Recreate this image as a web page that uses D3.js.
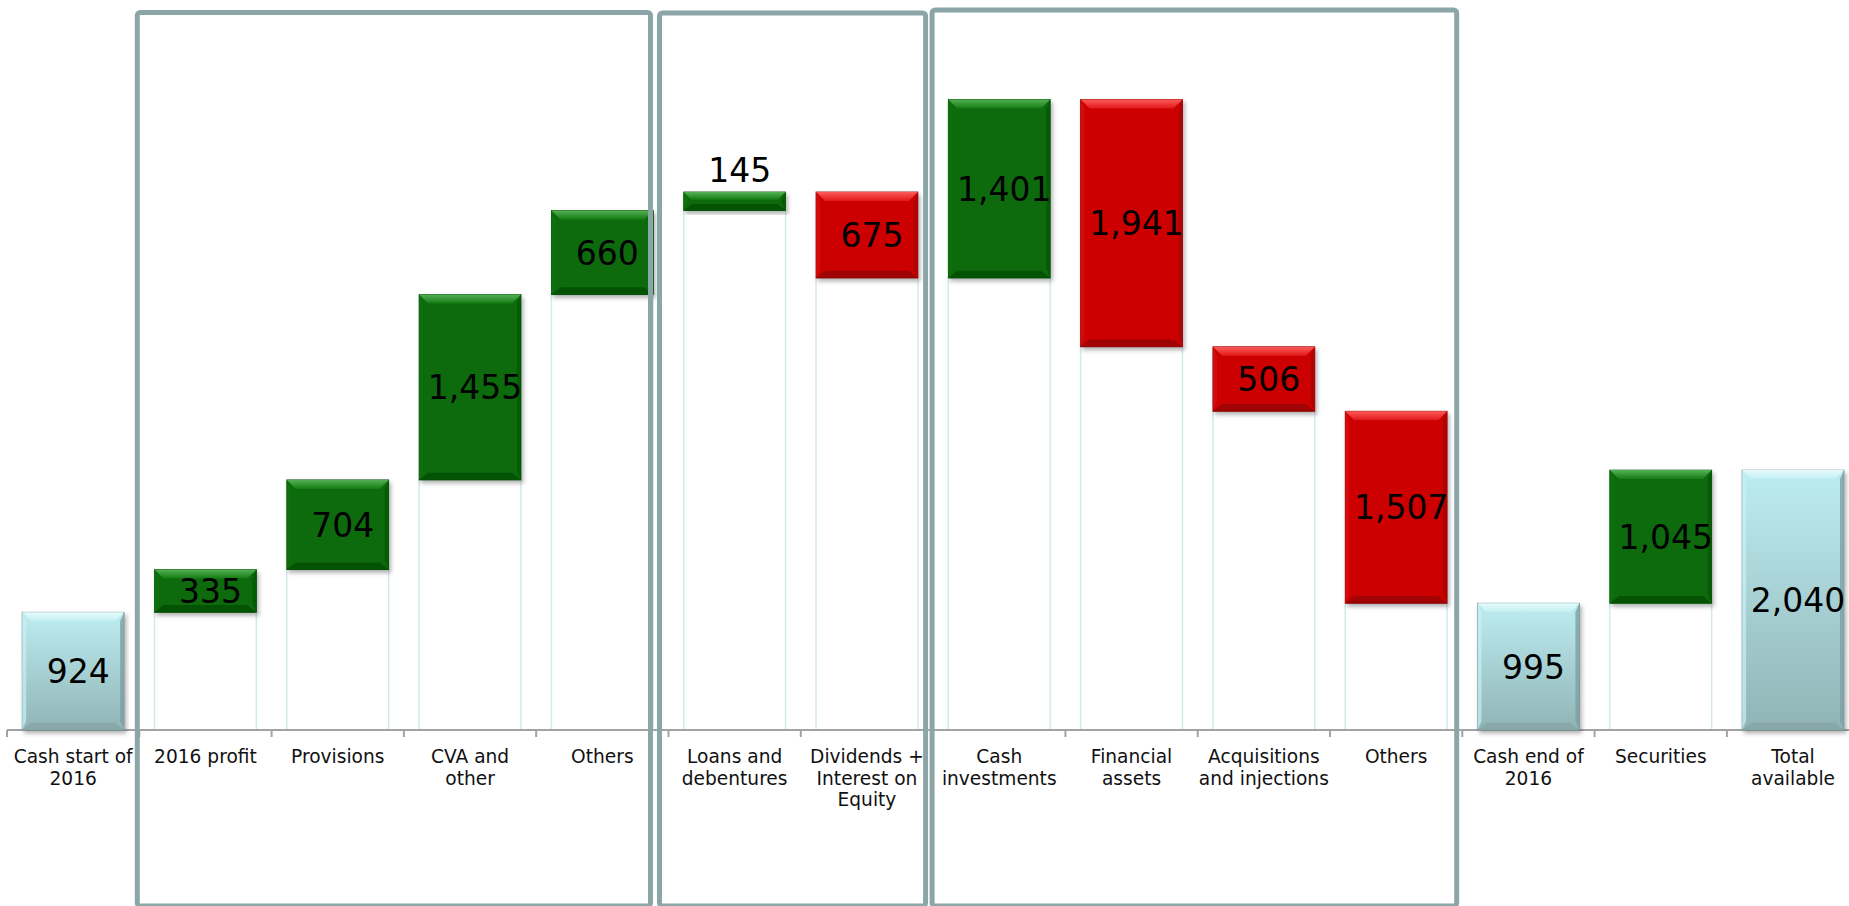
<!DOCTYPE html>
<html>
<head>
<meta charset="utf-8">
<script src="https://cdn.jsdelivr.net/npm/d3@7"></script>
<style>
  body { margin: 0; background: #fff; }
  text { font-family: "DejaVu Sans", Verdana, sans-serif; }
</style>
</head>
<body>
<script>
// categories, label lines and values
var categories = ["Cash start of 2016", "2016 profit", "Provisions", "CVA and other", "Others",
  "Loans and debentures", "Dividends + Interest on Equity", "Cash investments", "Financial assets",
  "Acquisitions and injections", "Others ", "Cash end of 2016", "Securities", "Total available"];
var labelLines = [["Cash start of", "2016"], ["2016 profit"], ["Provisions"], ["CVA and", "other"], ["Others"],
  ["Loans and", "debentures"], ["Dividends +", "Interest on", "Equity"], ["Cash", "investments"],
  ["Financial", "assets"], ["Acquisitions", "and injections"], ["Others"], ["Cash end of", "2016"],
  ["Securities"], ["Total", "available"]];
var values = [924, 335, 704, 1455, 660, 145, -675, 1401, -1941, -506, -1507, 995, 1045, 2040];
var isTotal = [true, false, false, false, false, false, false, false, false, false, false, true, false, true];
var labelAbove = [false, false, false, false, false, true, false, false, false, false, false, false, false, false];
// boxed groups, by category index
var groupFirst = [1, 5, 7];
var groupLast = [4, 6, 10];

var w = 1849;
var h = 906;
var svg = d3.select("body")
  .append("svg")
  .attr("width", w)
  .attr("height", h);

var x = d3.scaleBand()
  .domain(categories)
  .range([7, 7 + 14 * 132.3])
  .paddingInner(0.23)
  .paddingOuter(0.115);

var y = d3.scaleLinear()
  .domain([0, 5000])
  .range([730, 730 - 5000 * 0.1274]);

// running sums for the waterfall
var bars = [];
var run = 0;
values.forEach(function(v, i) {
  var lo, hi;
  if (isTotal[i]) { lo = 0; hi = v; run = v; }
  else { lo = Math.min(run, run + v); hi = Math.max(run, run + v); run = run + v; }
  bars.push({ cat: categories[i], v: v, lo: lo, hi: hi, kind: isTotal[i] ? "total" : (v >= 0 ? "up" : "down"), above: labelAbove[i] });
});

var defs = svg.append("defs");
var f = defs.append("filter").attr("id", "shadow").attr("x", "-20%").attr("y", "-20%").attr("width", "140%").attr("height", "140%");
f.append("feDropShadow").attr("dx", 2).attr("dy", 3).attr("stdDeviation", 2).attr("flood-color", "#000").attr("flood-opacity", 0.3);

function grad(id, c1, c2) {
  var g = defs.append("linearGradient").attr("id", id).attr("x1", 0).attr("y1", 0).attr("x2", 0).attr("y2", 1);
  g.append("stop").attr("offset", "0%").attr("stop-color", c1);
  g.append("stop").attr("offset", "100%").attr("stop-color", c2);
}
grad("totalBody", "#bdedf1", "#90b4b6");
grad("totalTop", "#e6fbfc", "#c2eff2");
grad("upTop", "#55b055", "#137c13");
grad("downTop", "#ff5a5a", "#e01818");

var style = {
  total: { body: "url(#totalBody)", top: "url(#totalTop)", bottom: "#86a6a8", left: "#c9f1f3", right: "#7f9fa1", edge: "#6f8f91" },
  up: { body: "#076a07", top: "url(#upTop)", bottom: "#044f04", left: "#0c760c", right: "#055805", edge: "#044a04" },
  down: { body: "#cc0606", top: "url(#downTop)", bottom: "#960404", left: "#d81010", right: "#a80505", edge: "#8a0303" }
};

// invisible base bars (white with light edges)
svg.selectAll("rect.base")
  .data(bars.filter(function(d) { return d.kind != "total" && d.lo > 0; }))
  .enter()
  .append("rect")
  .attr("class", "base")
  .attr("x", function(d) { return x(d.cat); })
  .attr("y", function(d) { return y(d.lo); })
  .attr("width", x.bandwidth())
  .attr("height", function(d) { return y(0) - y(d.lo); })
  .attr("fill", "#fff")
  .attr("stroke", "#d3e9ec")
  .attr("stroke-width", 1.5);

// axis line and ticks at category boundaries
var step = x.step();
var x0 = x(categories[0]) - step * x.paddingOuter();
svg.append("line")
  .attr("x1", x0).attr("x2", x0 + step * categories.length)
  .attr("y1", y(0)).attr("y2", y(0))
  .attr("stroke", "#a3a3a3").attr("stroke-width", 2);
svg.selectAll("line.tick")
  .data(d3.range(categories.length + 1))
  .enter()
  .append("line")
  .attr("class", "tick")
  .attr("x1", function(i) { return x0 + i * step; })
  .attr("x2", function(i) { return x0 + i * step; })
  .attr("y1", y(0)).attr("y2", y(0) + 7)
  .attr("stroke", "#a3a3a3").attr("stroke-width", 2);

// floating bars with a bevel
var g = svg.selectAll("g.bar")
  .data(bars)
  .enter()
  .append("g")
  .attr("class", "bar");

g.each(function(d) {
  var s = style[d.kind];
  var a = x(d.cat), b = a + x.bandwidth();
  var t = y(d.hi), u = y(d.lo);
  var bv = Math.min(9, (u - t) * 0.42);
  var sv = Math.min(4, bv);
  var el = d3.select(this);
  el.append("rect")
    .attr("x", a).attr("y", t).attr("width", b - a).attr("height", u - t)
    .attr("fill", s.body).attr("stroke", s.edge).attr("stroke-width", 0.8)
    .attr("filter", "url(#shadow)");
  el.append("polygon")
    .attr("points", [[a, t], [a + sv, t + bv], [a + sv, u - bv], [a, u]].join(" "))
    .attr("fill", s.left).attr("opacity", 0.7);
  el.append("polygon")
    .attr("points", [[b, t], [b - sv, t + bv], [b - sv, u - bv], [b, u]].join(" "))
    .attr("fill", s.right).attr("opacity", 0.8);
  el.append("polygon")
    .attr("points", [[a, t], [b, t], [b - bv, t + bv], [a + bv, t + bv]].join(" "))
    .attr("fill", s.top);
  el.append("polygon")
    .attr("points", [[a, u], [b, u], [b - bv, u - bv * 0.8], [a + bv, u - bv * 0.8]].join(" "))
    .attr("fill", s.bottom).attr("opacity", 0.85);
});

// value labels
svg.selectAll("text.value")
  .data(bars)
  .enter()
  .append("text")
  .attr("class", "value")
  .attr("x", function(d) { return x(d.cat) + x.bandwidth() / 2 + 5; })
  .attr("y", function(d) {
    if (d.above) return y(d.hi) - 10;
    return (y(d.hi) + y(d.lo)) / 2 + 12;
  })
  .attr("text-anchor", "middle")
  .attr("font-size", 33)
  .attr("fill", "#000")
  .text(function(d) { return d3.format(",")(Math.abs(d.v)); });

// category labels
var cl = svg.selectAll("text.cat")
  .data(categories)
  .enter()
  .append("text")
  .attr("class", "cat")
  .attr("text-anchor", "middle")
  .attr("font-size", 18.6)
  .attr("fill", "#111");
cl.selectAll("tspan")
  .data(function(d, i) {
    return labelLines[i].map(function(s) { return { s: s, c: d }; });
  })
  .enter()
  .append("tspan")
  .attr("x", function(d) { return x(d.c) + x.bandwidth() / 2; })
  .attr("y", function(d, j) { return 763 + j * 21.7; })
  .text(function(d) { return d.s; });

// group frames
var padL = [2, 9, 1];
var padR = [18, 7.5, 5.6];
var tops = [12.5, 13, 10];
svg.selectAll("rect.frame")
  .data(groupFirst)
  .enter()
  .append("rect")
  .attr("class", "frame")
  .attr("x", function(d, i) { return x0 + d * step - padL[i]; })
  .attr("y", function(d, i) { return tops[i]; })
  .attr("width", function(d, i) { return (groupLast[i] - d + 1) * step - padR[i] + padL[i]; })
  .attr("height", function(d, i) { return 906 - tops[i]; })
  .attr("rx", 3)
  .attr("fill", "none")
  .attr("stroke", "#8ca6a8")
  .attr("stroke-width", 5);
</script>
</body>
</html>
